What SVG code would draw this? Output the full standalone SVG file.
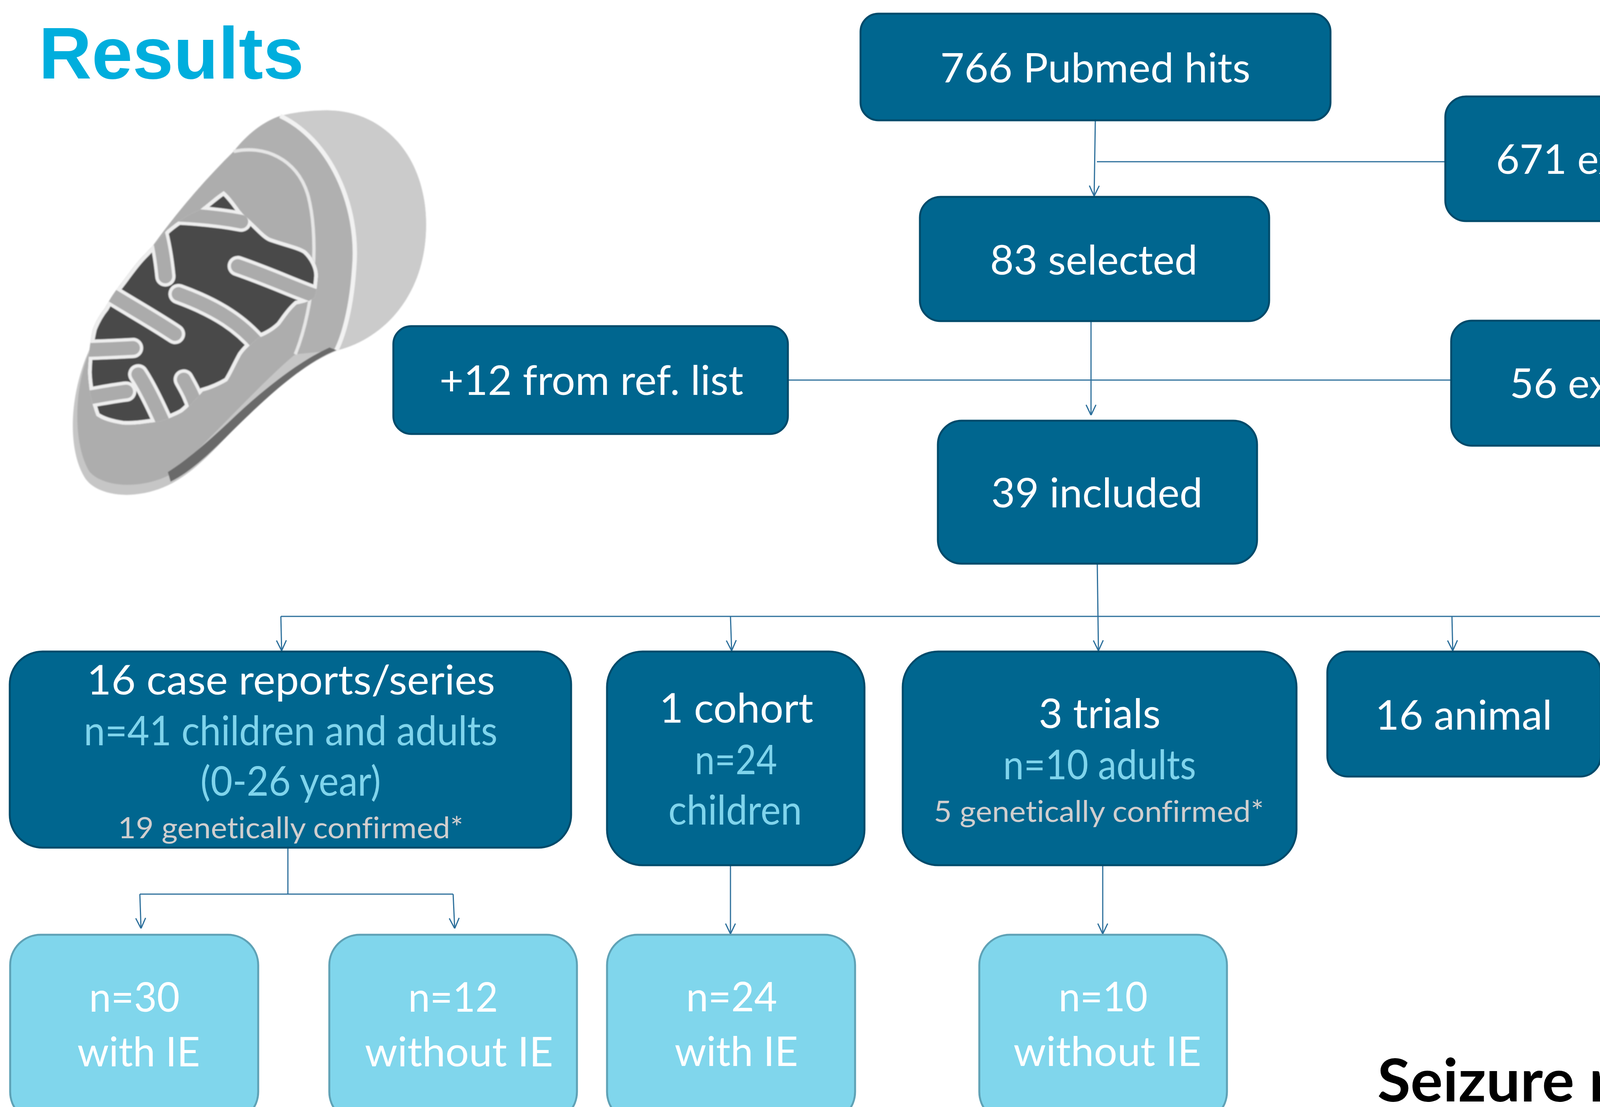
<svg xmlns="http://www.w3.org/2000/svg" width="4799" height="2834" viewBox="0 0 4799 2834">
<style>
.dk{fill:#00668F;stroke:#004B6B;stroke-width:5}
.lt{fill:#80D6EC;stroke:#5FA2B6;stroke-width:5}
.t{font-family:Lato,"Open Sans","Liberation Sans",sans-serif;font-size:104px;fill:#FFFFFF;text-anchor:middle;font-variant-ligatures:none}
.lb{fill:#7FD4EC}
.sm{font-size:76px;fill:#D0CECE}
.cn{fill:none;stroke:#2C6F9B;stroke-width:3}
.ar{marker-end:url(#arr)}
.fw{fill:none;stroke:#EEEEEE;stroke-width:74;stroke-linecap:round}
.fg{fill:none;stroke:#ABABAB;stroke-width:50;stroke-linecap:round}
</style>
<defs>
<marker id="arr" viewBox="0 0 20 20" refX="20" refY="10" markerWidth="28" markerHeight="28" orient="auto" markerUnits="userSpaceOnUse">
<path d="M1,1 L20,10 L1,19" fill="none" stroke="#2C6F9B" stroke-width="2.2"/>
</marker>
<filter id="soft" x="-5%" y="-5%" width="110%" height="110%"><feGaussianBlur stdDeviation="2.5"/></filter>
<path id="matrix" d="M674,369 C710,400 730,440 750,459 C800,500 820,530 846,541 C900,560 950,570 973,586 C1000,610 1020,650 1018,681 C1015,720 1010,745 1005,758 C980,775 960,780 941,783 C910,810 890,845 878,859 C850,885 820,900 801,904 C770,930 750,950 738,968 C715,1010 700,1045 687,1063 C650,1085 620,1095 598,1101 C570,1130 545,1160 521,1178 C480,1200 440,1212 400,1216 C360,1222 330,1224 305,1222 C260,1215 230,1205 209,1190 C190,1140 180,1080 178,1031 C180,970 188,910 197,872 C210,840 225,815 241,796 C260,760 285,725 305,700 C335,660 360,625 388,598 C420,565 445,535 470,509 C505,480 545,455 585,439 C620,410 650,385 674,369 Z"/>
<clipPath id="mclip"><use href="#matrix"/></clipPath>
</defs>
<rect width="4799" height="2834" fill="#FFFFFF"/>

<text id="title" x="99" y="201" font-family="'Liberation Sans',Arial,sans-serif" font-weight="bold" font-size="188" fill="#00AEDD">Results</text>

<g id="mitochondrion" transform="translate(100,230) scale(0.7015)" filter="url(#soft)">
<path d="M170,1420 C110,1330 105,1150 170,980 C260,760 450,520 650,290 C750,170 880,80 1050,75 C1270,75 1420,260 1412,510 C1405,760 1250,910 1090,950 C960,1000 820,1130 680,1270 C560,1400 470,1470 330,1478 C260,1480 200,1460 170,1420 Z" fill="#C6C6C6"/>
<path d="M880,95 C1060,180 1170,420 1150,650 C1140,800 1110,900 1085,950 C1250,910 1405,760 1412,510 C1420,260 1270,75 1050,75 C990,75 930,82 880,95 Z" fill="#CBCBCB"/>
<path d="M710,225 C820,200 940,250 980,380 C1020,520 1010,780 935,965 L1085,950 C1110,900 1140,800 1150,650 C1170,420 1060,180 880,95 C820,115 760,160 710,225 Z" fill="#B0B0B0"/>
<path d="M710,225 C820,200 940,250 980,380 C1020,520 1010,780 935,965 C820,1060 650,1250 500,1390 C420,1450 250,1465 185,1395 C125,1300 125,1100 180,965 C280,745 470,460 710,225 Z" fill="#ADADAD"/>
<path d="M880,95 C1060,180 1170,420 1150,650 C1140,800 1110,900 1085,950" fill="none" stroke="#F2F2F2" stroke-width="16"/>
<path d="M710,225 C820,200 940,250 980,380 C1020,520 1010,780 935,965" fill="none" stroke="#E6E6E6" stroke-width="12"/>
<path d="M1085,950 C960,1000 820,1130 680,1270 C600,1350 540,1400 480,1430 L470,1395 C540,1350 610,1290 690,1215 C820,1090 950,990 1060,940 Z" fill="#6B6B6B"/>
<use href="#matrix" fill="#484848"/>
<use href="#matrix" fill="none" stroke="#EEEEEE" stroke-width="28" clip-path="url(#mclip)"/>
<g clip-path="url(#mclip)">
<path class="fw" d="M500,455 C600,460 680,470 738,481"/>
<path class="fw" d="M430,505 C445,560 455,620 461,681"/>
<path class="fw" d="M1030,760 C940,730 860,690 725,643"/>
<path class="fw" d="M800,930 C740,860 660,800 509,745"/>
<path class="fw" d="M250,740 C330,790 420,840 496,891"/>
<path class="fw" d="M150,950 C230,948 290,945 343,942"/>
<path class="fw" d="M170,1125 C230,1115 280,1105 318,1101"/>
<path class="fw" d="M460,1230 C420,1140 390,1080 362,1038"/>
<path class="fw" d="M575,1160 C560,1110 540,1080 528,1057"/>
<path class="fg" d="M500,455 C600,460 680,470 738,481"/>
<path class="fg" d="M430,505 C445,560 455,620 461,681"/>
<path class="fg" d="M1030,760 C940,730 860,690 725,643"/>
<path class="fg" d="M800,930 C740,860 660,800 509,745"/>
<path class="fg" d="M250,740 C330,790 420,840 496,891"/>
<path class="fg" d="M150,950 C230,948 290,945 343,942"/>
<path class="fg" d="M170,1125 C230,1115 280,1105 318,1101"/>
<path class="fg" d="M460,1230 C420,1140 390,1080 362,1038"/>
<path class="fg" d="M575,1160 C560,1110 540,1080 528,1057"/>
</g>
</g>

<g id="connectors">
<path class="cn ar" d="M2804,308 L2801,502"/>
<path class="cn" d="M2808,414 L3700,414"/>
<path class="cn ar" d="M2793,822 L2793,1063"/>
<path class="cn" d="M2017,973 L3715,973"/>
<path class="cn ar" d="M2809,1443 L2812,1666"/>
<path class="cn" d="M719,1578 L4487,1578"/>
<path class="cn ar" d="M719,1578 L721,1666"/>
<path class="cn ar" d="M1870,1578 L1873,1666"/>
<path class="cn ar" d="M3717,1578 L3719,1666"/>
<path class="cn ar" d="M4487,1578 L4490,1666"/>
<path class="cn" d="M737,2170 L737,2289 M358,2289 L1160,2289"/>
<path class="cn ar" d="M358,2289 L361,2377"/>
<path class="cn ar" d="M1160,2289 L1164,2377"/>
<path class="cn ar" d="M1870,2215 L1870,2391"/>
<path class="cn ar" d="M2823,2215 L2823,2391"/>
</g>

<g id="n766">
<rect class="dk" x="2203" y="35" width="1203" height="273" rx="46"/>
<text class="t" x="2804" y="211" textLength="794" lengthAdjust="spacingAndGlyphs">766 Pubmed hits</text>
</g>
<g id="n671">
<rect class="dk" x="3700" y="247" width="879" height="319" rx="53"/>
<text class="t" x="4138" y="445" textLength="617" lengthAdjust="spacingAndGlyphs">671 excluded</text>
</g>
<g id="n83">
<rect class="dk" x="2355" y="504" width="894" height="318" rx="53"/>
<text class="t" x="2800" y="703" textLength="531" lengthAdjust="spacingAndGlyphs">83 selected</text>
</g>
<g id="n12">
<rect class="dk" x="1007" y="835" width="1010" height="276" rx="46"/>
<text class="t" x="1514" y="1011" textLength="778" lengthAdjust="spacingAndGlyphs">+12 from ref. list</text>
</g>
<g id="n56">
<rect class="dk" x="3715" y="821" width="864" height="320" rx="53"/>
<text class="t" x="4145" y="1019" textLength="560" lengthAdjust="spacingAndGlyphs">56 excluded</text>
</g>
<g id="n39">
<rect class="dk" x="2401" y="1077" width="817" height="366" rx="61"/>
<text class="t" x="2808" y="1299" textLength="541" lengthAdjust="spacingAndGlyphs">39 included</text>
</g>
<g id="ncase">
<rect class="dk" x="25" y="1668" width="1437" height="502" rx="84"/>
<text class="t" x="745" y="1778" textLength="1045" lengthAdjust="spacingAndGlyphs">16 case reports/series</text>
<text class="t lb" x="744" y="1908" textLength="1059" lengthAdjust="spacingAndGlyphs">n=41 children and adults</text>
<text class="t lb" x="744" y="2037" textLength="462" lengthAdjust="spacingAndGlyphs">(0-26 year)</text>
<text class="t sm" x="744" y="2146" textLength="884" lengthAdjust="spacingAndGlyphs">19 genetically confirmed*</text>
</g>
<g id="ncohort">
<rect class="dk" x="1554" y="1668" width="659" height="547" rx="91"/>
<text class="t" x="1885" y="1850" textLength="394" lengthAdjust="spacingAndGlyphs">1 cohort</text>
<text class="t lb" x="1884" y="1982" textLength="211" lengthAdjust="spacingAndGlyphs">n=24</text>
<text class="t lb" x="1882" y="2111" textLength="342" lengthAdjust="spacingAndGlyphs">children</text>
</g>
<g id="ntrials">
<rect class="dk" x="2311" y="1668" width="1008" height="547" rx="91"/>
<text class="t" x="2815" y="1864" textLength="312" lengthAdjust="spacingAndGlyphs">3 trials</text>
<text class="t lb" x="2815" y="1995" textLength="494" lengthAdjust="spacingAndGlyphs">n=10 adults</text>
<text class="t sm" x="2813" y="2104" textLength="845" lengthAdjust="spacingAndGlyphs">5 genetically confirmed*</text>
</g>
<g id="nanimal">
<rect class="dk" x="3398" y="1668" width="700" height="320" rx="53"/>
<text class="t" x="3747" y="1868" textLength="453" lengthAdjust="spacingAndGlyphs">16 animal</text>
</g>
<g id="nvitro">
<rect class="dk" x="4184" y="1668" width="631" height="320" rx="53"/>
<text class="t" x="4505" y="1868" textLength="417" lengthAdjust="spacingAndGlyphs">3 In vitro</text>
</g>
<g id="n30">
<rect class="lt" x="26" y="2393" width="635" height="480" rx="78"/>
<text class="t" x="344" y="2590" textLength="232" lengthAdjust="spacingAndGlyphs">n=30</text>
<text class="t" x="355" y="2730" textLength="314" lengthAdjust="spacingAndGlyphs">with IE</text>
</g>
<g id="n12b">
<rect class="lt" x="843" y="2393" width="634" height="480" rx="78"/>
<text class="t" x="1160" y="2590" textLength="230" lengthAdjust="spacingAndGlyphs">n=12</text>
<text class="t" x="1175" y="2730" textLength="482" lengthAdjust="spacingAndGlyphs">without IE</text>
</g>
<g id="n24b">
<rect class="lt" x="1554" y="2393" width="635" height="480" rx="78"/>
<text class="t" x="1873" y="2589" textLength="233" lengthAdjust="spacingAndGlyphs">n=24</text>
<text class="t" x="1885" y="2729" textLength="316" lengthAdjust="spacingAndGlyphs">with IE</text>
</g>
<g id="n10b">
<rect class="lt" x="2507" y="2393" width="634" height="480" rx="78"/>
<text class="t" x="2824" y="2589" textLength="228" lengthAdjust="spacingAndGlyphs">n=10</text>
<text class="t" x="2835" y="2729" textLength="481" lengthAdjust="spacingAndGlyphs">without IE</text>
</g>

<text id="seizure" x="3526" y="2820" font-family="Lato,'Open Sans','Liberation Sans',sans-serif" font-weight="bold" font-size="151" fill="#000000" textLength="1303" lengthAdjust="spacingAndGlyphs">Seizure reduction r</text>
</svg>
